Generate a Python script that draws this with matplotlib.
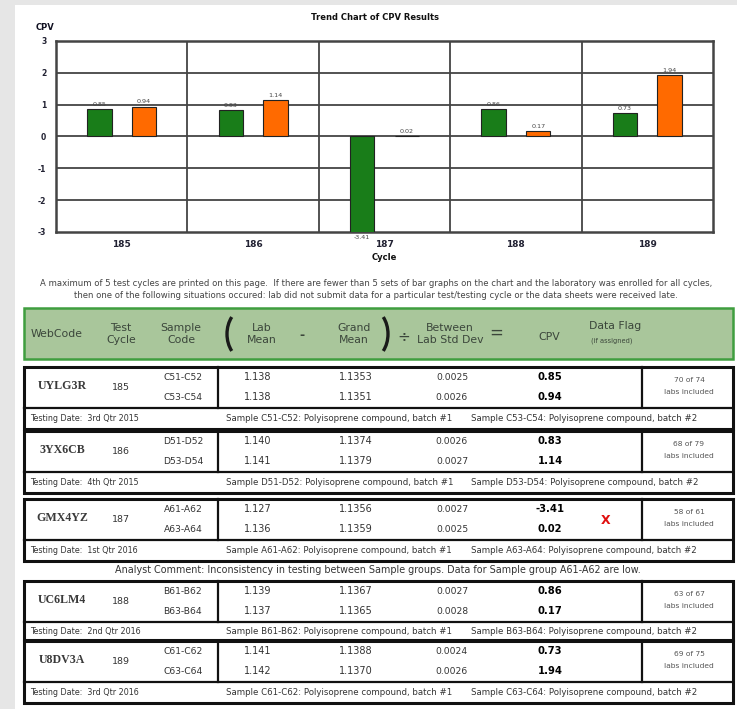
import matplotlib
matplotlib.use("Agg")
import matplotlib.pyplot as plt
from matplotlib.patches import Rectangle, Arc

# chart data
cycles = ["185", "186", "187", "188", "189"]
cpv_first = [0.85, 0.83, -3.41, 0.86, 0.73]
cpv_second = [0.94, 1.14, 0.02, 0.17, 1.94]

# table data
web_codes = ["UYLG3R", "3YX6CB", "GMX4YZ", "UC6LM4", "U8DV3A"]
sample_first = ["C51-C52", "D51-D52", "A61-A62", "B61-B62", "C61-C62"]
sample_second = ["C53-C54", "D53-D54", "A63-A64", "B63-B64", "C63-C64"]
lab_mean_first = ["1.138", "1.140", "1.127", "1.139", "1.141"]
lab_mean_second = ["1.138", "1.141", "1.136", "1.137", "1.142"]
grand_mean_first = ["1.1353", "1.1374", "1.1356", "1.1367", "1.1388"]
grand_mean_second = ["1.1351", "1.1379", "1.1359", "1.1365", "1.1370"]
std_first = ["0.0025", "0.0026", "0.0027", "0.0027", "0.0024"]
std_second = ["0.0026", "0.0027", "0.0025", "0.0028", "0.0026"]
flags = ["", "", "X", "", ""]
labs_included = ["70 of 74", "68 of 79", "58 of 61", "63 of 67", "69 of 75"]
testing_dates = ["3rd Qtr 2015", "4th Qtr 2015", "1st Qtr 2016", "2nd Qtr 2016", "3rd Qtr 2016"]
comment = ("Analyst Comment: Inconsistency in testing between Sample groups. "
           "Data for Sample group A61-A62 are low.")
note_1 = ("A maximum of 5 test cycles are printed on this page.  If there are fewer than 5 sets "
          "of bar graphs on the chart and the laboratory was enrolled for all cycles,")
note_2 = ("then one of the following situations occured: lab did not submit data for a particular "
          "test/testing cycle or the data sheets were received late.")

W, H = 737, 709
GREEN = "#197d19"
ORANGE = "#ff6a00"
TXT = "#333333"

fig = plt.figure(figsize=(W / 100, H / 100), dpi=100)
fig.patch.set_facecolor("#e6e6e6")

# page canvas in pixel coordinates
page = fig.add_axes([0, 0, 1, 1])
page.set_xlim(0, W)
page.set_ylim(H, 0)
page.axis("off")
page.add_patch(Rectangle((15, 5), W - 15, H - 5, facecolor="white", edgecolor="none"))

# ---- bar chart ----
ax = fig.add_axes([56 / W, 1 - 232 / H, (713 - 56) / W, (232 - 41) / H])
ax.set_facecolor("white")
x = list(range(len(cycles)))
x1 = [i - 0.17 for i in x]
x2 = [i + 0.17 for i in x]
b1 = ax.bar(x1, cpv_first, width=0.185, color=GREEN, edgecolor="#222222", linewidth=0.8, zorder=3)
b2 = ax.bar(x2, cpv_second, width=0.185, color=ORANGE, edgecolor="#222222", linewidth=0.8, zorder=3)
ax.set_ylim(-3, 3)
ax.set_xlim(-0.5, len(cycles) - 0.5)
for y in range(-2, 3):
    ax.axhline(y, color="#444444", linewidth=1.3, zorder=2)
for i in range(1, len(cycles)):
    ax.axvline(i - 0.5, color="#444444", linewidth=1.3, zorder=2)
for bars, vals in ((b1, cpv_first), (b2, cpv_second)):
    for rect, v in zip(bars, vals):
        cx = rect.get_x() + rect.get_width() / 2
        if v >= 0:
            ax.annotate(f"{v:.2f}", (cx, v), xytext=(0, 1.5), textcoords="offset points",
                        ha="center", va="bottom", fontsize=4.6, color="#444444")
        else:
            ax.annotate(f"{v:.2f}", (cx, max(v, -3)), xytext=(0, -2), textcoords="offset points",
                        ha="center", va="top", fontsize=4.6, color="#444444", annotation_clip=False)
ax.set_xticks(x)
ax.set_xticklabels(cycles, fontsize=6.5, fontweight="bold", color="#222233")
ax.set_yticks(range(-3, 4))
ax.set_yticklabels([str(v) for v in range(-3, 4)], fontsize=5.5, fontweight="bold", color="#222233")
ax.tick_params(length=0, pad=7)
ax.tick_params(axis="x", pad=6)
for s in ax.spines.values():
    s.set_linewidth(1.8)
    s.set_color("#444444")
ax.set_xlabel("Cycle", fontsize=6, fontweight="bold", labelpad=3, color="#111111")

page.text(375, 18, "Trend Chart of CPV Results", ha="center", va="center",
          fontsize=6, fontweight="bold", color="#111111")
page.text(45, 28, "CPV", ha="center", va="center", fontsize=6, fontweight="bold", color="#111122")

page.text(376, 283, note_1, ha="center", va="center", fontsize=6.1, color="#444444")
page.text(376, 296, note_2, ha="center", va="center", fontsize=6.1, color="#444444")

# ---- header band ----
page.add_patch(Rectangle((24, 308), 733 - 24, 51, facecolor="#a9c69b", edgecolor="#3f9e3f", linewidth=1.8))
HC = "#3b463b"
hdr = [(57, "WebCode"), (121, "Test\nCycle"), (181, "Sample\nCode"), (262, "Lab\nMean"),
       (354, "Grand\nMean"), (450, "Between\nLab Std Dev")]
for hx, ht in hdr:
    page.text(hx, 334, ht, ha="center", va="center", fontsize=7.8, color=HC, linespacing=1.25)
page.text(302, 335, "-", ha="center", va="center", fontsize=9, color=HC, fontweight="bold")
page.text(404, 337, "÷", ha="center", va="center", fontsize=11, color=HC)
page.text(496, 333, "=", ha="center", va="center", fontsize=12, color=HC)
page.text(549, 337, "CPV", ha="center", va="center", fontsize=7.8, color=HC)
page.text(589, 326, "Data Flag", ha="left", va="center", fontsize=7.8, color=HC)
page.text(591, 341, "(if assigned)", ha="left", va="center", fontsize=4.8, color=HC)
page.add_patch(Arc((245, 334), 36, 50, theta1=128, theta2=232, color="#1a1a1a", linewidth=2.4))
page.add_patch(Arc((370, 334), 36, 50, theta1=-52, theta2=52, color="#1a1a1a", linewidth=2.4))

# ---- table groups ----
tops = [367, 431, 499, 581, 641]
heights = [62, 62, 62, 59, 62]
for g, t in enumerate(tops):
    h = heights[g]
    page.add_patch(Rectangle((24, t), 733 - 24, h, facecolor="white", edgecolor="#111111", linewidth=2.2))
    page.plot([24, 733], [t + 41, t + 41], color="#111111", linewidth=1.6)
    page.plot([218, 218], [t, t + 41], color="#111111", linewidth=1.6)
    page.plot([642, 642], [t, t + 41], color="#111111", linewidth=1.6)
    page.text(62, t + 19, web_codes[g], ha="center", va="center", fontsize=8.6,
              family="Liberation Serif", fontweight="bold", color="#3a3a3a")
    page.text(121, t + 20, cycles[g], ha="center", va="center", fontsize=6.8, color=TXT)
    rows = [(t + 10, sample_first[g], lab_mean_first[g], grand_mean_first[g], std_first[g], cpv_first[g]),
            (t + 30, sample_second[g], lab_mean_second[g], grand_mean_second[g], std_second[g], cpv_second[g])]
    for ry, sc, lm, gm, sd, cv in rows:
        page.text(183, ry, sc, ha="center", va="center", fontsize=6.6, color=TXT)
        page.text(258, ry, lm, ha="center", va="center", fontsize=7, color=TXT)
        page.text(356, ry, gm, ha="center", va="center", fontsize=7, color=TXT)
        page.text(452, ry, sd, ha="center", va="center", fontsize=6.6, color=TXT)
        page.text(550, ry, f"{cv:.2f}", ha="center", va="center", fontsize=7.2, fontweight="bold", color="black")
    if flags[g]:
        page.text(606, t + 21, flags[g], ha="center", va="center", fontsize=9, fontweight="bold", color="#e01010")
    page.text(689, t + 13, labs_included[g], ha="center", va="center", fontsize=5.4, color="#555555")
    page.text(689, t + 25, "labs included", ha="center", va="center", fontsize=5.4, color="#555555")
    ty = t + 41 + (h - 41) / 2
    page.text(30, ty, "Testing Date:  " + testing_dates[g], ha="left", va="center", fontsize=5.8, color=TXT)
    page.text(226, ty, f"Sample {sample_first[g]}: Polyisoprene compound, batch #1",
              ha="left", va="center", fontsize=6.2, color=TXT)
    page.text(471, ty, f"Sample {sample_second[g]}: Polyisoprene compound, batch #2",
              ha="left", va="center", fontsize=6.2, color=TXT)

page.text(378, 570, comment, ha="center", va="center", fontsize=6.9, color=TXT)

fig.savefig("out.png", dpi=100)
